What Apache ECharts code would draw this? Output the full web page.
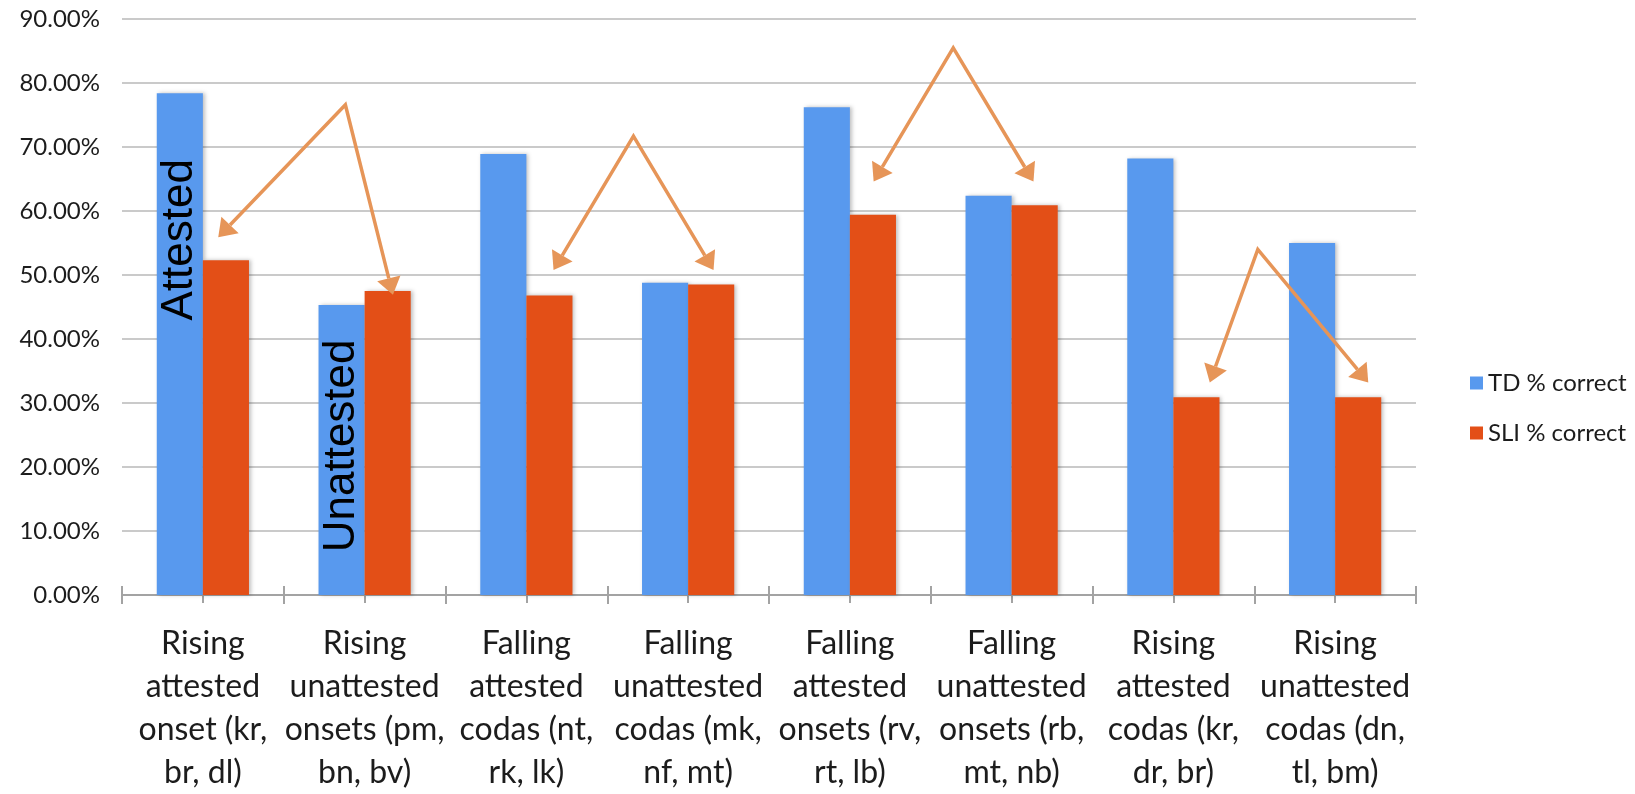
<!DOCTYPE html>
<html>
<head>
<meta charset="utf-8">
<script src="https://cdn.jsdelivr.net/npm/echarts@6/dist/echarts.min.js"></script>
<style>
  html, body { margin: 0; padding: 0; background: #ffffff; }
  #chart { width: 1635px; height: 794px; }
</style>
</head>
<body>
<div id="chart"></div>
<script>
// Cluster categories (multi-line labels)
const categories = [
  'Rising\nattested\nonset (kr,\nbr, dl)',
  'Rising\nunattested\nonsets (pm,\nbn, bv)',
  'Falling\nattested\ncodas (nt,\nrk, lk)',
  'Falling\nunattested\ncodas (mk,\nnf, mt)',
  'Falling\nattested\nonsets (rv,\nrt, lb)',
  'Falling\nunattested\nonsets (rb,\nmt, nb)',
  'Rising\nattested\ncodas (kr,\ndr, br)',
  'Rising\nunattested\ncodas (dn,\ntl, bm)'
];

// Percent correct per group
const tdCorrect  = [78.4, 45.3, 68.9, 48.8, 76.2, 62.4, 68.2, 55.0];
const sliCorrect = [52.3, 47.5, 46.8, 48.5, 59.4, 60.9, 30.9, 30.9];

// Value axis range / step (percent)
const yMin = 0, yMax = 90, yStep = 10;

// Comparison arrows: apex and the two arrow tips, as [category position, percent]
const arrowApex     = [[0.881, 76.6], [2.662, 71.7], [4.639, 85.5], [6.522, 54.0]];
const arrowLeftTip  = [[0.095, 55.9], [2.168, 50.8], [4.147, 64.6], [6.225, 33.2]];
const arrowRightTip = [[1.175, 46.9], [3.157, 50.8], [5.135, 64.6], [7.205, 33.2]];

// Vertical notes written inside the TD bars
const noteTexts    = ['Attested', 'Unattested'];
const noteCategory = [0, 1];
const noteValue    = [55.5, 23.3];

const BLUE = '#5899EE';
const ORANGE = '#E34F17';
const ARROW = '#E69558';
const TEXT = '#1c1c1c';
const AXIS_GREY = '#a3a3a3';
const CAT_GAP = 0.43;

const chart = echarts.init(document.getElementById('chart'), null, { renderer: 'canvas' });

// category position (may be fractional) -> pixel
function toPx(api, pos, val) {
  const n = categories.length;
  const i0 = Math.min(Math.max(Math.floor(pos), 0), n - 2);
  const a = api.coord([i0, val]);
  const b = api.coord([i0 + 1, val]);
  return [a[0] + (pos - i0) * (b[0] - a[0]), a[1]];
}

function arrowHead(tip, from, len, halfW) {
  const dx = tip[0] - from[0], dy = tip[1] - from[1];
  const d = Math.sqrt(dx * dx + dy * dy);
  const ux = dx / d, uy = dy / d;
  const base = [tip[0] - ux * len, tip[1] - uy * len];
  const nx = -uy, ny = ux;
  return {
    base: base,
    points: [tip, [base[0] + nx * halfW, base[1] + ny * halfW], [base[0] - nx * halfW, base[1] - ny * halfW]]
  };
}

// extra tick-only axes: boundary ticks crossing the baseline, short ticks under each cluster centre
function tickAxis(extra) {
  return Object.assign({
    type: 'category',
    data: categories,
    position: 'bottom',
    axisLine: { show: false },
    axisLabel: { show: false },
    splitLine: { show: false }
  }, extra);
}

const option = {
  animation: false,
  backgroundColor: '#ffffff',
  textStyle: { fontFamily: 'Lato' },
  grid: { left: 122, right: 219, top: 19, bottom: 199, containLabel: false },
  legend: {
    data: ['TD % correct', 'SLI % correct'],
    orient: 'vertical',
    left: 1465,
    top: 366,
    icon: 'rect',
    itemWidth: 13,
    itemHeight: 13,
    itemGap: 26,
    selectedMode: false,
    textStyle: { fontSize: 24, fontFamily: 'Lato', color: TEXT, lineHeight: 24 }
  },
  xAxis: [
    {
      type: 'category',
      data: categories,
      position: 'bottom',
      axisLine: { lineStyle: { color: AXIS_GREY, width: 2 } },
      axisTick: { show: true, length: 9, interval: 0, lineStyle: { color: AXIS_GREY, width: 2 } },
      axisLabel: {
        interval: 0, margin: 27, color: TEXT, fontSize: 32, fontFamily: 'Lato',
        lineHeight: 43, align: 'center'
      },
      splitLine: { show: false }
    },
    tickAxis({
      axisTick: { show: true, inside: true, length: 9, interval: 0, lineStyle: { color: AXIS_GREY, width: 2 } }
    }),
    tickAxis({
      axisTick: { show: true, alignWithLabel: true, length: 8, interval: 0, lineStyle: { color: AXIS_GREY, width: 2 } }
    })
  ],
  yAxis: {
    type: 'value',
    min: yMin,
    max: yMax,
    interval: yStep,
    axisLine: { show: false },
    axisTick: { show: false },
    axisLabel: {
      margin: 22, color: TEXT, fontSize: 24, fontFamily: 'Lato',
      formatter: v => v.toFixed(2) + '%'
    },
    splitLine: { lineStyle: { color: '#cacaca', width: 2 } }
  },
  series: [
    {
      name: 'TD % correct',
      type: 'bar',
      data: tdCorrect,
      barGap: '0%',
      barCategoryGap: (CAT_GAP * 100) + '%',
      itemStyle: { color: BLUE, shadowBlur: 4, shadowOffsetX: 2, shadowColor: 'rgba(0,0,0,0.25)' },
      z: 2
    },
    {
      name: 'SLI % correct',
      type: 'bar',
      data: sliCorrect,
      barGap: '0%',
      barCategoryGap: (CAT_GAP * 100) + '%',
      itemStyle: { color: ORANGE, shadowBlur: 4, shadowOffsetX: 2, shadowColor: 'rgba(0,0,0,0.25)' },
      z: 2
    },
    {
      name: 'notes',
      type: 'custom',
      data: noteTexts.map((t, i) => [noteCategory[i], noteValue[i]]),
      clip: false,
      z: 5,
      silent: true,
      renderItem: function (params, api) {
        const i = params.dataIndex;
        const c = api.coord([noteCategory[i], noteValue[i]]);
        const band = api.size([1, 0])[0];
        const barW = band * (1 - CAT_GAP) / 2;
        return {
          type: 'text',
          x: c[0] - barW / 2,
          y: c[1],
          rotation: Math.PI / 2,
          style: {
            text: noteTexts[i],
            fontSize: 44,
            fontFamily: 'Liberation Sans',
            fill: '#000000',
            align: 'center',
            verticalAlign: 'middle'
          }
        };
      }
    },
    {
      name: 'arrows',
      type: 'custom',
      data: arrowApex.map((a, i) => [i, a[1]]),
      clip: false,
      z: 6,
      silent: true,
      renderItem: function (params, api) {
        const i = params.dataIndex;
        const apex = toPx(api, arrowApex[i][0], arrowApex[i][1]);
        const lt = toPx(api, arrowLeftTip[i][0], arrowLeftTip[i][1]);
        const rt = toPx(api, arrowRightTip[i][0], arrowRightTip[i][1]);
        const hl = arrowHead(lt, apex, 17, 12);
        const hr = arrowHead(rt, apex, 17, 12);
        return {
          type: 'group',
          children: [
            {
              type: 'polyline',
              shape: { points: [hl.base, apex, hr.base] },
              style: { stroke: ARROW, lineWidth: 3.5, fill: null, lineJoin: 'miter' }
            },
            { type: 'polygon', shape: { points: hl.points }, style: { fill: ARROW } },
            { type: 'polygon', shape: { points: hr.points }, style: { fill: ARROW } }
          ]
        };
      }
    }
  ]
};

chart.setOption(option);
</script>
</body>
</html>
